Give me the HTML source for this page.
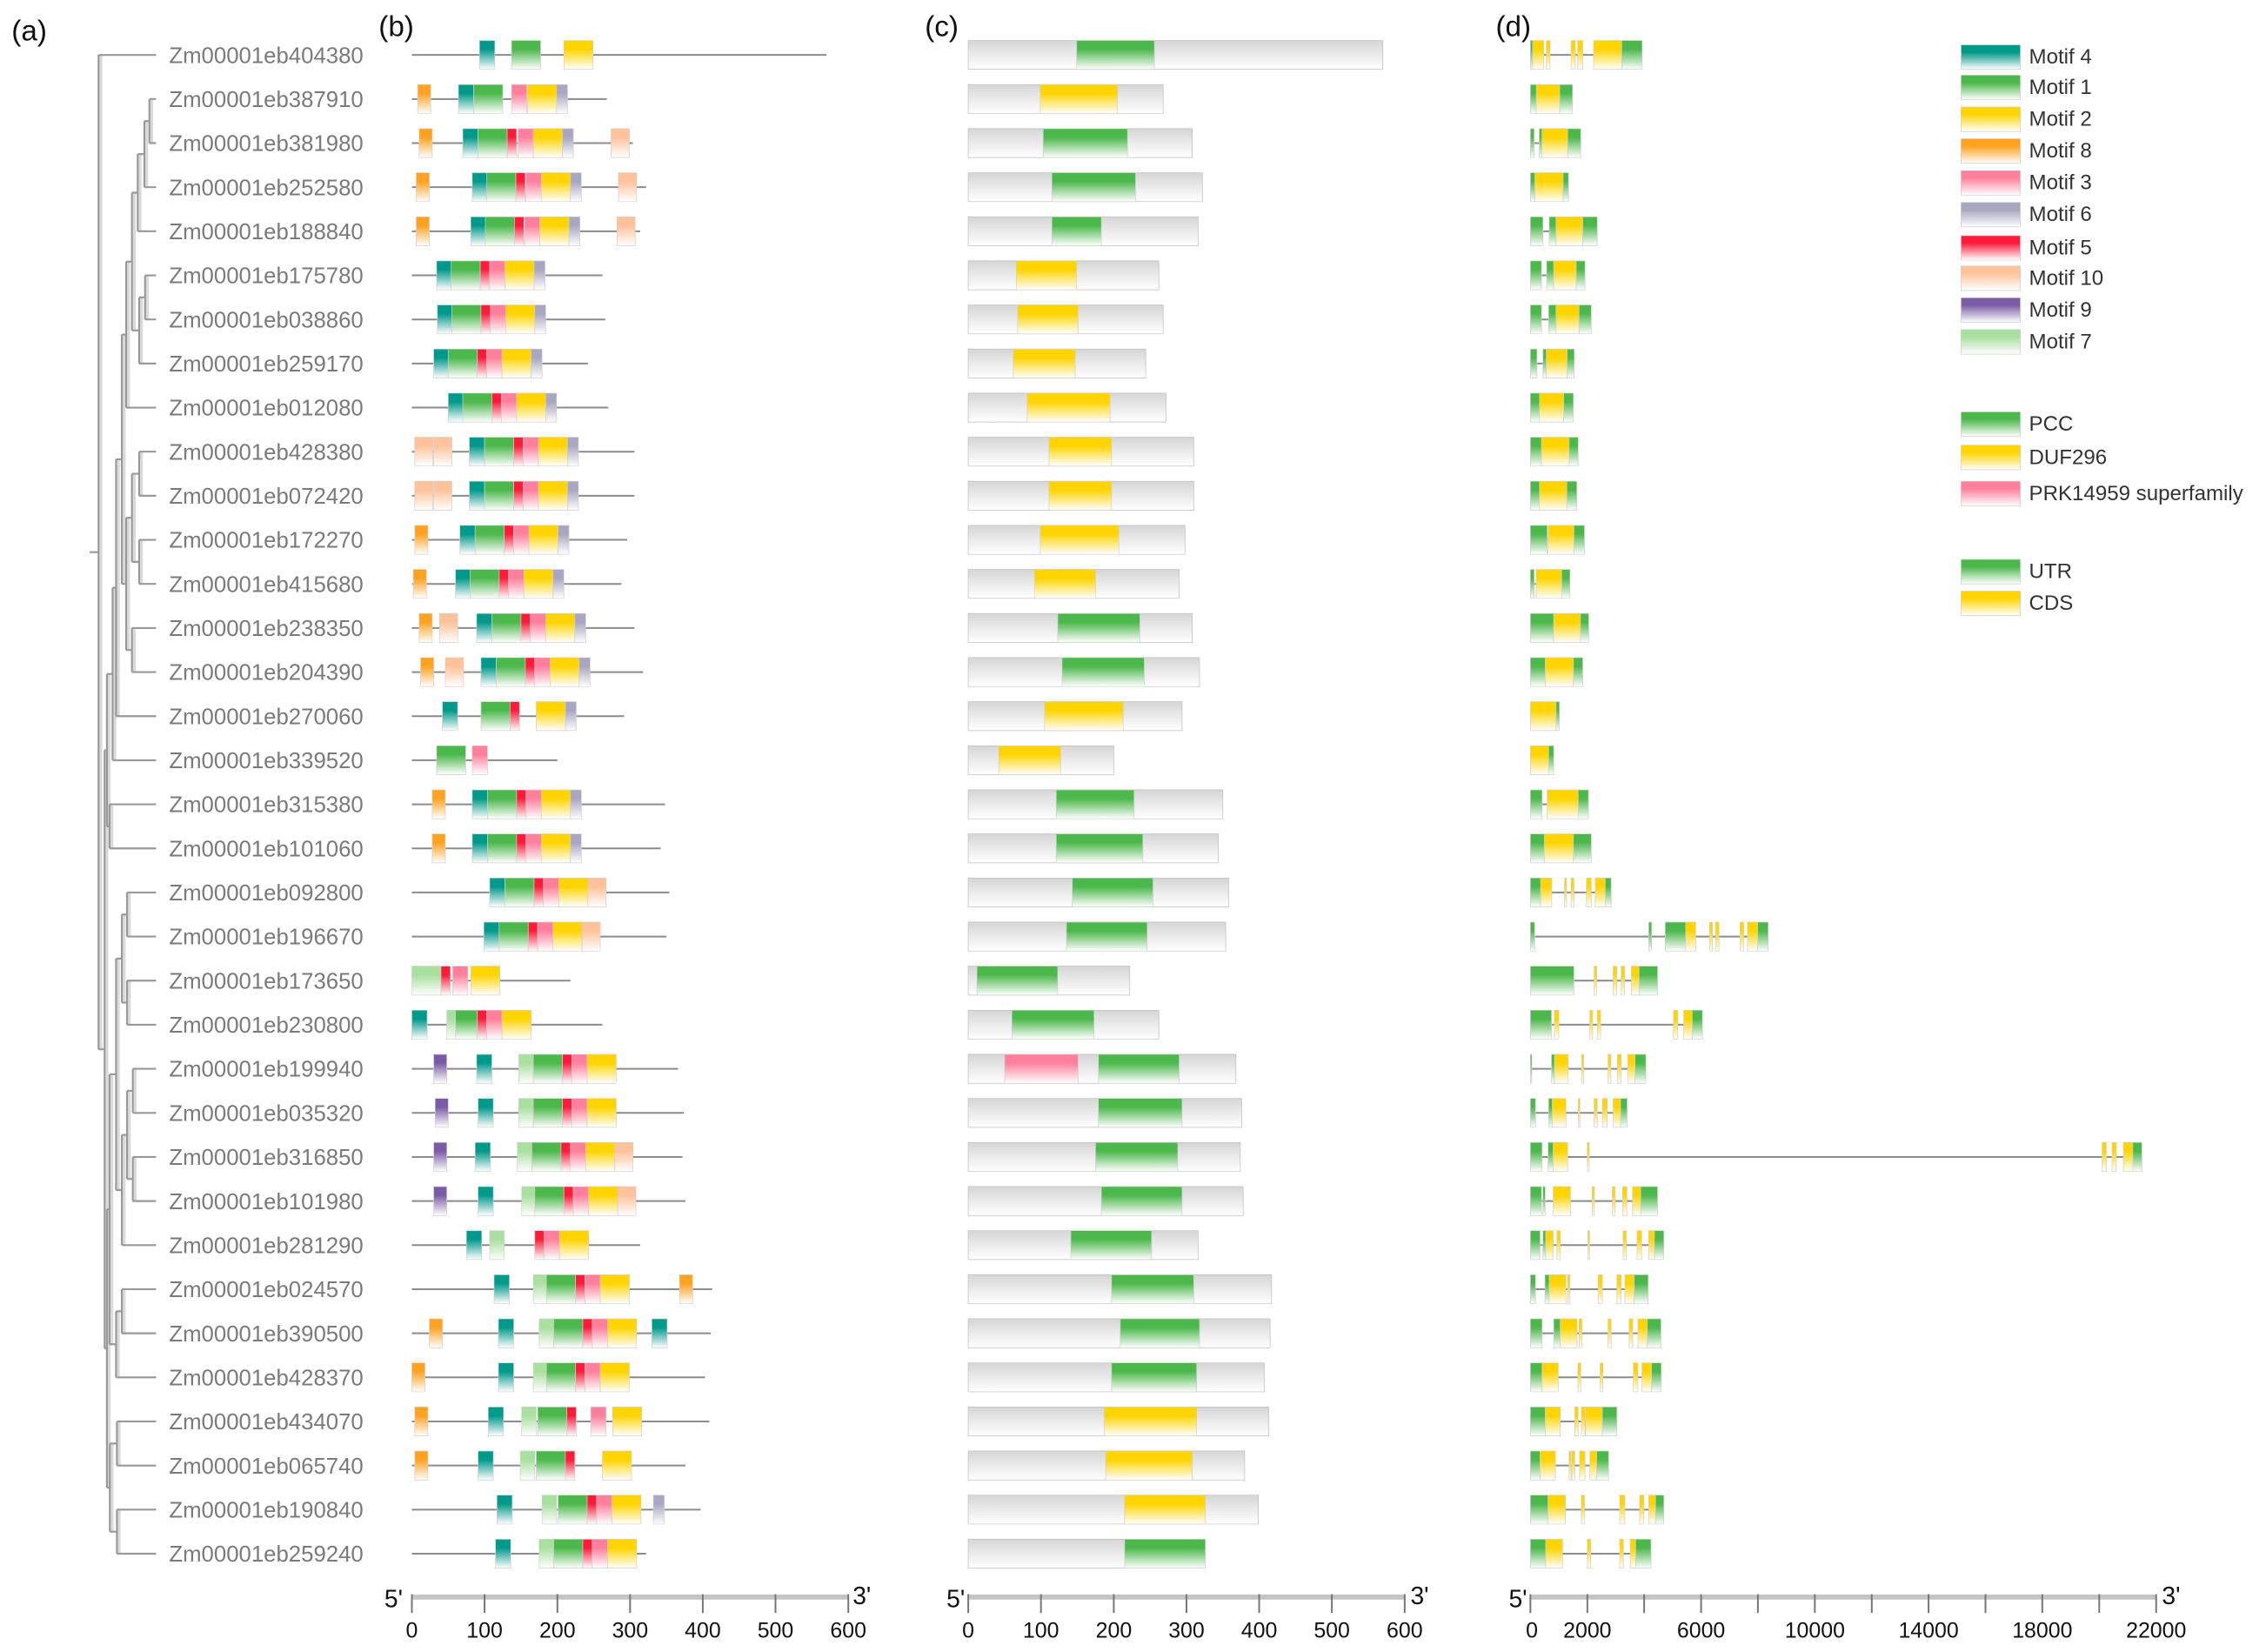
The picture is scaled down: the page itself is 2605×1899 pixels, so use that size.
<!DOCTYPE html>
<html><head><meta charset="utf-8"><style>
html,body{margin:0;padding:0;background:#fff;}
svg{display:block;}
text{font-family:"Liberation Sans",sans-serif;}
.lbl{font-size:15.5px;fill:#7a7a7a;}
.bb{stroke:#8c8c8c;stroke-width:2px;vector-effect:non-scaling-stroke;}
rect{stroke:#cfcfcf;stroke-width:0.7px;vector-effect:non-scaling-stroke;}
.m4{fill:url(#g_m4)}.m1{fill:url(#g_m1)}.m2{fill:url(#g_m2)}.m8{fill:url(#g_m8)}.m3{fill:url(#g_m3)}
.m6{fill:url(#g_m6)}.m5{fill:url(#g_m5)}.m10{fill:url(#g_m10)}.m9{fill:url(#g_m9)}.m7{fill:url(#g_m7)}
.pcc{fill:url(#g_m1)}.duf{fill:url(#g_m2)}.prk{fill:url(#g_m3)}.u{fill:url(#g_m1)}.c{fill:url(#g_m2)}
.gr{fill:url(#g_gray);stroke:#bdbdbd;}
.tk{stroke:#777;stroke-width:1.2px;}
.ax{stroke:#c4c4c4;stroke-width:3.5px;}
.tl{font-size:15px;fill:#111;text-anchor:middle;}
.pr{font-size:17px;fill:#111;}
.lg{font-size:14.5px;fill:#333;}
</style></head><body>
<svg id="fig" width="2605" height="1899" viewBox="0 0 1568 1143">
<defs>
<linearGradient id="g_m4" x1="0" y1="0" x2="0" y2="1"><stop offset="0" stop-color="#00998a"/><stop offset="0.3" stop-color="#00998a"/><stop offset="1" stop-color="#fff"/></linearGradient>
<linearGradient id="g_m1" x1="0" y1="0" x2="0" y2="1"><stop offset="0" stop-color="#4cb84c"/><stop offset="0.3" stop-color="#4cb84c"/><stop offset="1" stop-color="#fff"/></linearGradient>
<linearGradient id="g_m2" x1="0" y1="0" x2="0" y2="1"><stop offset="0" stop-color="#ffd400"/><stop offset="0.3" stop-color="#ffd400"/><stop offset="1" stop-color="#fff"/></linearGradient>
<linearGradient id="g_m8" x1="0" y1="0" x2="0" y2="1"><stop offset="0" stop-color="#ffa21f"/><stop offset="0.3" stop-color="#ffa21f"/><stop offset="1" stop-color="#fff"/></linearGradient>
<linearGradient id="g_m3" x1="0" y1="0" x2="0" y2="1"><stop offset="0" stop-color="#ff7f9c"/><stop offset="0.3" stop-color="#ff7f9c"/><stop offset="1" stop-color="#fff"/></linearGradient>
<linearGradient id="g_m6" x1="0" y1="0" x2="0" y2="1"><stop offset="0" stop-color="#a8a6c0"/><stop offset="0.3" stop-color="#a8a6c0"/><stop offset="1" stop-color="#fff"/></linearGradient>
<linearGradient id="g_m5" x1="0" y1="0" x2="0" y2="1"><stop offset="0" stop-color="#ff1a3a"/><stop offset="0.3" stop-color="#ff1a3a"/><stop offset="1" stop-color="#fff"/></linearGradient>
<linearGradient id="g_m10" x1="0" y1="0" x2="0" y2="1"><stop offset="0" stop-color="#ffc29a"/><stop offset="0.3" stop-color="#ffc29a"/><stop offset="1" stop-color="#fff"/></linearGradient>
<linearGradient id="g_m9" x1="0" y1="0" x2="0" y2="1"><stop offset="0" stop-color="#7a5ca6"/><stop offset="0.3" stop-color="#7a5ca6"/><stop offset="1" stop-color="#fff"/></linearGradient>
<linearGradient id="g_m7" x1="0" y1="0" x2="0" y2="1"><stop offset="0" stop-color="#a9df9f"/><stop offset="0.3" stop-color="#a9df9f"/><stop offset="1" stop-color="#fff"/></linearGradient>
<linearGradient id="g_gray" x1="0" y1="0" x2="0" y2="1"><stop offset="0" stop-color="#d6d6d6"/><stop offset="1" stop-color="#fff"/></linearGradient>
</defs>
<text x="8" y="28" font-size="20" fill="#111">(a)</text>
<text x="262" y="25" font-size="20" fill="#111">(b)</text>
<text x="640" y="25" font-size="20" fill="#111">(c)</text>
<text x="1035" y="25" font-size="20" fill="#111">(d)</text>

<g fill="none">
<path transform="translate(1.6 0)" stroke="#dadada" stroke-width="2" d="M68.2 38V726M72.4 519V933M74 466.3V571.75M75.8 556.5V587M77.9 406.6V526M80.3 317.75V495.5M84.3 231.5V404M87.3 181V282M91.3 133.3V228.6M95.3 106.6V160M99.9 83.75V129.5M103.4 68.5V99M96.3 205.75V251.5M100.4 190.5V221M87.3 358.25V449.75M91.3 327.75V388.75M96.3 312.5V343M96.3 373.5V404M91.3 434.5V465M74 836.7V1029.25M75.8 743.3V930.1M80.3 663.25V823.4M84.3 632.75V693.75M87.9 617.5V648M87.9 678.5V709M84.3 785.25V861.5M87.9 754.75V815.75M91.9 739.5V770M91.9 800.5V831M80.3 907.25V953M84.3 892V922.5M76 998.75V1059.75M80.9 983.5V1014M80.9 1044.5V1075"/>
<path stroke="#999" stroke-width="1.3" d="M68.2 38V726M68.2 38H108M68.2 726H72.4M62 382H68.2
M72.4 519V933M72.4 519H74M72.4 933H74
M74 466.3V571.75M74 466.3H77.9M74 571.75H75.8
M75.8 556.5V587M75.8 556.5H108M75.8 587H108
M77.9 406.6V526M77.9 406.6H80.3M77.9 526H108
M80.3 317.75V495.5M80.3 317.75H84.3M80.3 495.5H108
M84.3 231.5V404M84.3 231.5H87.3M84.3 404H87.3
M87.3 181V282M87.3 181H91.3M87.3 282H108
M91.3 133.3V228.6M91.3 133.3H95.3M91.3 228.6H96.3
M95.3 106.6V160M95.3 106.6H99.9M95.3 160H108
M99.9 83.75V129.5M99.9 83.75H103.4M99.9 129.5H108
M103.4 68.5V99M103.4 68.5H108M103.4 99H108
M96.3 205.75V251.5M96.3 205.75H100.4M96.3 251.5H108
M100.4 190.5V221M100.4 190.5H108M100.4 221H108
M87.3 358.25V449.75M87.3 358.25H91.3M87.3 449.75H91.3
M91.3 327.75V388.75M91.3 327.75H96.3M91.3 388.75H96.3
M96.3 312.5V343M96.3 312.5H108M96.3 343H108
M96.3 373.5V404M96.3 373.5H108M96.3 404H108
M91.3 434.5V465M91.3 434.5H108M91.3 465H108
M74 836.7V1029.25M74 836.7H75.8M74 1029.25H76
M75.8 743.3V930.1M75.8 743.3H80.3M75.8 930.1H80.3
M80.3 663.25V823.4M80.3 663.25H84.3M80.3 823.4H84.3
M84.3 632.75V693.75M84.3 632.75H87.9M84.3 693.75H87.9
M87.9 617.5V648M87.9 617.5H108M87.9 648H108
M87.9 678.5V709M87.9 678.5H108M87.9 709H108
M84.3 785.25V861.5M84.3 785.25H87.9M84.3 861.5H108
M87.9 754.75V815.75M87.9 754.75H91.9M87.9 815.75H91.9
M91.9 739.5V770M91.9 739.5H108M91.9 770H108
M91.9 800.5V831M91.9 800.5H108M91.9 831H108
M80.3 907.25V953M80.3 907.25H84.3M80.3 953H108
M84.3 892V922.5M84.3 892H108M84.3 922.5H108
M76 998.75V1059.75M76 998.75H80.9M76 1059.75H80.9
M80.9 983.5V1014M80.9 983.5H108M80.9 1014H108
M80.9 1044.5V1075M80.9 1044.5H108M80.9 1075H108"/>
</g>

<g>
<!-- row 1 -->
<g transform="translate(0 38)"><text class="lbl" x="117" y="5.5">Zm00001eb404380</text>
<g transform="translate(285 0) scale(0.5033 1)"><line class="bb" x2="570"/><rect class="m4" x="93" width="21" y="-10" height="20"/><rect class="m1" x="137" width="40" y="-10" height="20"/><rect class="m2" x="209" width="40" y="-10" height="20"/></g>
<g transform="translate(670 0) scale(0.5033 1)"><rect class="gr" width="570" y="-10" height="20"/><rect class="pcc" x="149" width="107" y="-10" height="20"/></g>
<g transform="translate(1059 0) scale(0.01968 1)"><line class="bb" x2="3930"/><rect class="u" x="0" width="80" y="-10" height="20"/><rect class="c" x="80" width="390" y="-10" height="20"/><rect class="c" x="560" width="130" y="-10" height="20"/><rect class="c" x="1430" width="150" y="-10" height="20"/><rect class="c" x="1660" width="180" y="-10" height="20"/><rect class="c" x="2220" width="990" y="-10" height="20"/><rect class="u" x="3210" width="720" y="-10" height="20"/></g></g>
<!-- row 2 -->
<g transform="translate(0 68.5)"><text class="lbl" x="117" y="5.5">Zm00001eb387910</text>
<g transform="translate(285 0) scale(0.5033 1)"><line class="bb" x2="268"/><rect class="m8" x="8" width="18" y="-10" height="20"/><rect class="m4" x="64" width="21" y="-10" height="20"/><rect class="m1" x="85" width="40" y="-10" height="20"/><rect class="m3" x="137" width="21" y="-10" height="20"/><rect class="m2" x="159" width="40" y="-10" height="20"/><rect class="m6" x="199" width="15" y="-10" height="20"/></g>
<g transform="translate(670 0) scale(0.5033 1)"><rect class="gr" width="268" y="-10" height="20"/><rect class="duf" x="99" width="106" y="-10" height="20"/></g>
<g transform="translate(1059 0) scale(0.01968 1)"><line class="bb" x2="1480"/><rect class="u" x="0" width="210" y="-10" height="20"/><rect class="c" x="210" width="820" y="-10" height="20"/><rect class="u" x="1030" width="450" y="-10" height="20"/></g></g>
<!-- row 3 -->
<g transform="translate(0 99)"><text class="lbl" x="117" y="5.5">Zm00001eb381980</text>
<g transform="translate(285 0) scale(0.5033 1)"><line class="bb" x2="304"/><rect class="m8" x="10" width="18" y="-10" height="20"/><rect class="m4" x="70" width="21" y="-10" height="20"/><rect class="m1" x="91" width="40" y="-10" height="20"/><rect class="m5" x="131" width="13" y="-10" height="20"/><rect class="m3" x="146" width="21" y="-10" height="20"/><rect class="m2" x="167" width="40" y="-10" height="20"/><rect class="m6" x="207" width="15" y="-10" height="20"/><rect class="m10" x="274" width="25" y="-10" height="20"/></g>
<g transform="translate(670 0) scale(0.5033 1)"><rect class="gr" width="308" y="-10" height="20"/><rect class="pcc" x="103" width="116" y="-10" height="20"/></g>
<g transform="translate(1059 0) scale(0.01968 1)"><line class="bb" x2="1770"/><rect class="u" x="0" width="130" y="-10" height="20"/><rect class="u" x="310" width="100" y="-10" height="20"/><rect class="c" x="410" width="900" y="-10" height="20"/><rect class="u" x="1310" width="460" y="-10" height="20"/></g></g>
<!-- row 4 -->
<g transform="translate(0 129.5)"><text class="lbl" x="117" y="5.5">Zm00001eb252580</text>
<g transform="translate(285 0) scale(0.5033 1)"><line class="bb" x2="322"/><rect class="m8" x="6" width="18" y="-10" height="20"/><rect class="m4" x="83" width="21" y="-10" height="20"/><rect class="m1" x="103" width="40" y="-10" height="20"/><rect class="m5" x="143" width="13" y="-10" height="20"/><rect class="m3" x="157" width="21" y="-10" height="20"/><rect class="m2" x="178" width="40" y="-10" height="20"/><rect class="m6" x="218" width="15" y="-10" height="20"/><rect class="m10" x="284" width="25" y="-10" height="20"/></g>
<g transform="translate(670 0) scale(0.5033 1)"><rect class="gr" width="322" y="-10" height="20"/><rect class="pcc" x="115" width="115" y="-10" height="20"/></g>
<g transform="translate(1059 0) scale(0.01968 1)"><line class="bb" x2="1340"/><rect class="u" x="0" width="160" y="-10" height="20"/><rect class="c" x="160" width="990" y="-10" height="20"/><rect class="u" x="1150" width="190" y="-10" height="20"/></g></g>
<!-- row 5 -->
<g transform="translate(0 160)"><text class="lbl" x="117" y="5.5">Zm00001eb188840</text>
<g transform="translate(285 0) scale(0.5033 1)"><line class="bb" x2="314"/><rect class="m8" x="6" width="18" y="-10" height="20"/><rect class="m4" x="81" width="21" y="-10" height="20"/><rect class="m1" x="101" width="40" y="-10" height="20"/><rect class="m5" x="141" width="13" y="-10" height="20"/><rect class="m3" x="155" width="21" y="-10" height="20"/><rect class="m2" x="176" width="40" y="-10" height="20"/><rect class="m6" x="216" width="15" y="-10" height="20"/><rect class="m10" x="282" width="25" y="-10" height="20"/></g>
<g transform="translate(670 0) scale(0.5033 1)"><rect class="gr" width="316" y="-10" height="20"/><rect class="pcc" x="115" width="68" y="-10" height="20"/></g>
<g transform="translate(1059 0) scale(0.01968 1)"><line class="bb" x2="2350"/><rect class="u" x="0" width="440" y="-10" height="20"/><rect class="u" x="660" width="240" y="-10" height="20"/><rect class="c" x="900" width="940" y="-10" height="20"/><rect class="u" x="1840" width="510" y="-10" height="20"/></g></g>
<!-- row 6 -->
<g transform="translate(0 190.5)"><text class="lbl" x="117" y="5.5">Zm00001eb175780</text>
<g transform="translate(285 0) scale(0.5033 1)"><line class="bb" x2="262"/><rect class="m4" x="34" width="21" y="-10" height="20"/><rect class="m1" x="54" width="40" y="-10" height="20"/><rect class="m5" x="94" width="13" y="-10" height="20"/><rect class="m3" x="107" width="21" y="-10" height="20"/><rect class="m2" x="128" width="40" y="-10" height="20"/><rect class="m6" x="168" width="15" y="-10" height="20"/></g>
<g transform="translate(670 0) scale(0.5033 1)"><rect class="gr" width="262" y="-10" height="20"/><rect class="duf" x="66" width="83" y="-10" height="20"/></g>
<g transform="translate(1059 0) scale(0.01968 1)"><line class="bb" x2="1920"/><rect class="u" x="0" width="390" y="-10" height="20"/><rect class="u" x="570" width="250" y="-10" height="20"/><rect class="c" x="820" width="790" y="-10" height="20"/><rect class="u" x="1610" width="310" y="-10" height="20"/></g></g>
<!-- row 7 -->
<g transform="translate(0 221)"><text class="lbl" x="117" y="5.5">Zm00001eb038860</text>
<g transform="translate(285 0) scale(0.5033 1)"><line class="bb" x2="266"/><rect class="m4" x="35" width="21" y="-10" height="20"/><rect class="m1" x="55" width="40" y="-10" height="20"/><rect class="m5" x="95" width="13" y="-10" height="20"/><rect class="m3" x="108" width="21" y="-10" height="20"/><rect class="m2" x="129" width="40" y="-10" height="20"/><rect class="m6" x="169" width="15" y="-10" height="20"/></g>
<g transform="translate(670 0) scale(0.5033 1)"><rect class="gr" width="268" y="-10" height="20"/><rect class="duf" x="68" width="83" y="-10" height="20"/></g>
<g transform="translate(1059 0) scale(0.01968 1)"><line class="bb" x2="2140"/><rect class="u" x="0" width="390" y="-10" height="20"/><rect class="u" x="640" width="260" y="-10" height="20"/><rect class="c" x="900" width="810" y="-10" height="20"/><rect class="u" x="1710" width="430" y="-10" height="20"/></g></g>
<!-- row 8 -->
<g transform="translate(0 251.5)"><text class="lbl" x="117" y="5.5">Zm00001eb259170</text>
<g transform="translate(285 0) scale(0.5033 1)"><line class="bb" x2="242"/><rect class="m4" x="30" width="21" y="-10" height="20"/><rect class="m1" x="50" width="40" y="-10" height="20"/><rect class="m5" x="90" width="13" y="-10" height="20"/><rect class="m3" x="103" width="21" y="-10" height="20"/><rect class="m2" x="124" width="40" y="-10" height="20"/><rect class="m6" x="164" width="15" y="-10" height="20"/></g>
<g transform="translate(670 0) scale(0.5033 1)"><rect class="gr" width="244" y="-10" height="20"/><rect class="duf" x="62" width="85" y="-10" height="20"/></g>
<g transform="translate(1059 0) scale(0.01968 1)"><line class="bb" x2="1540"/><rect class="u" x="0" width="230" y="-10" height="20"/><rect class="u" x="440" width="120" y="-10" height="20"/><rect class="c" x="560" width="730" y="-10" height="20"/><rect class="u" x="1290" width="250" y="-10" height="20"/></g></g>
<!-- row 9 -->
<g transform="translate(0 282)"><text class="lbl" x="117" y="5.5">Zm00001eb012080</text>
<g transform="translate(285 0) scale(0.5033 1)"><line class="bb" x2="270"/><rect class="m4" x="50" width="21" y="-10" height="20"/><rect class="m1" x="70" width="40" y="-10" height="20"/><rect class="m5" x="110" width="13" y="-10" height="20"/><rect class="m3" x="123" width="21" y="-10" height="20"/><rect class="m2" x="144" width="40" y="-10" height="20"/><rect class="m6" x="184" width="15" y="-10" height="20"/></g>
<g transform="translate(670 0) scale(0.5033 1)"><rect class="gr" width="272" y="-10" height="20"/><rect class="duf" x="81" width="114" y="-10" height="20"/></g>
<g transform="translate(1059 0) scale(0.01968 1)"><line class="bb" x2="1510"/><rect class="u" x="0" width="320" y="-10" height="20"/><rect class="c" x="320" width="850" y="-10" height="20"/><rect class="u" x="1170" width="340" y="-10" height="20"/></g></g>
<!-- row 10 -->
<g transform="translate(0 312.5)"><text class="lbl" x="117" y="5.5">Zm00001eb428380</text>
<g transform="translate(285 0) scale(0.5033 1)"><line class="bb" x2="306"/><rect class="m10" x="4" width="25" y="-10" height="20"/><rect class="m10" x="30" width="25" y="-10" height="20"/><rect class="m4" x="79" width="21" y="-10" height="20"/><rect class="m1" x="100" width="40" y="-10" height="20"/><rect class="m5" x="140" width="13" y="-10" height="20"/><rect class="m3" x="153" width="21" y="-10" height="20"/><rect class="m2" x="174" width="40" y="-10" height="20"/><rect class="m6" x="214" width="15" y="-10" height="20"/></g>
<g transform="translate(670 0) scale(0.5033 1)"><rect class="gr" width="310" y="-10" height="20"/><rect class="duf" x="111" width="86" y="-10" height="20"/></g>
<g transform="translate(1059 0) scale(0.01968 1)"><line class="bb" x2="1680"/><rect class="u" x="0" width="390" y="-10" height="20"/><rect class="c" x="390" width="970" y="-10" height="20"/><rect class="u" x="1360" width="320" y="-10" height="20"/></g></g>
<!-- row 11 -->
<g transform="translate(0 343)"><text class="lbl" x="117" y="5.5">Zm00001eb072420</text>
<g transform="translate(285 0) scale(0.5033 1)"><line class="bb" x2="306"/><rect class="m10" x="4" width="25" y="-10" height="20"/><rect class="m10" x="30" width="25" y="-10" height="20"/><rect class="m4" x="79" width="21" y="-10" height="20"/><rect class="m1" x="100" width="40" y="-10" height="20"/><rect class="m5" x="140" width="13" y="-10" height="20"/><rect class="m3" x="153" width="21" y="-10" height="20"/><rect class="m2" x="174" width="40" y="-10" height="20"/><rect class="m6" x="214" width="15" y="-10" height="20"/></g>
<g transform="translate(670 0) scale(0.5033 1)"><rect class="gr" width="310" y="-10" height="20"/><rect class="duf" x="111" width="86" y="-10" height="20"/></g>
<g transform="translate(1059 0) scale(0.01968 1)"><line class="bb" x2="1630"/><rect class="u" x="0" width="320" y="-10" height="20"/><rect class="c" x="320" width="960" y="-10" height="20"/><rect class="u" x="1280" width="350" y="-10" height="20"/></g></g>
<!-- row 12 -->
<g transform="translate(0 373.5)"><text class="lbl" x="117" y="5.5">Zm00001eb172270</text>
<g transform="translate(285 0) scale(0.5033 1)"><line class="bb" x2="296"/><rect class="m8" x="4" width="18" y="-10" height="20"/><rect class="m4" x="66" width="21" y="-10" height="20"/><rect class="m1" x="87" width="40" y="-10" height="20"/><rect class="m5" x="127" width="13" y="-10" height="20"/><rect class="m3" x="140" width="21" y="-10" height="20"/><rect class="m2" x="161" width="40" y="-10" height="20"/><rect class="m6" x="201" width="15" y="-10" height="20"/></g>
<g transform="translate(670 0) scale(0.5033 1)"><rect class="gr" width="298" y="-10" height="20"/><rect class="duf" x="99" width="108" y="-10" height="20"/></g>
<g transform="translate(1059 0) scale(0.01968 1)"><line class="bb" x2="1900"/><rect class="u" x="0" width="590" y="-10" height="20"/><rect class="c" x="620" width="910" y="-10" height="20"/><rect class="u" x="1530" width="370" y="-10" height="20"/></g></g>
<!-- row 13 -->
<g transform="translate(0 404)"><text class="lbl" x="117" y="5.5">Zm00001eb415680</text>
<g transform="translate(285 0) scale(0.5033 1)"><line class="bb" x2="288"/><rect class="m8" x="2" width="18" y="-10" height="20"/><rect class="m4" x="60" width="21" y="-10" height="20"/><rect class="m1" x="80" width="40" y="-10" height="20"/><rect class="m5" x="120" width="13" y="-10" height="20"/><rect class="m3" x="133" width="21" y="-10" height="20"/><rect class="m2" x="154" width="40" y="-10" height="20"/><rect class="m6" x="194" width="15" y="-10" height="20"/></g>
<g transform="translate(670 0) scale(0.5033 1)"><rect class="gr" width="290" y="-10" height="20"/><rect class="duf" x="91" width="84" y="-10" height="20"/></g>
<g transform="translate(1059 0) scale(0.01968 1)"><line class="bb" x2="1390"/><rect class="u" x="0" width="130" y="-10" height="20"/><rect class="c" x="200" width="900" y="-10" height="20"/><rect class="u" x="1100" width="290" y="-10" height="20"/></g></g>
<!-- row 14 -->
<g transform="translate(0 434.5)"><text class="lbl" x="117" y="5.5">Zm00001eb238350</text>
<g transform="translate(285 0) scale(0.5033 1)"><line class="bb" x2="306"/><rect class="m8" x="10" width="18" y="-10" height="20"/><rect class="m10" x="38" width="25" y="-10" height="20"/><rect class="m4" x="89" width="21" y="-10" height="20"/><rect class="m1" x="110" width="40" y="-10" height="20"/><rect class="m5" x="150" width="13" y="-10" height="20"/><rect class="m3" x="163" width="21" y="-10" height="20"/><rect class="m2" x="184" width="40" y="-10" height="20"/><rect class="m6" x="224" width="15" y="-10" height="20"/></g>
<g transform="translate(670 0) scale(0.5033 1)"><rect class="gr" width="308" y="-10" height="20"/><rect class="pcc" x="123" width="113" y="-10" height="20"/></g>
<g transform="translate(1059 0) scale(0.01968 1)"><line class="bb" x2="2050"/><rect class="u" x="0" width="820" y="-10" height="20"/><rect class="c" x="820" width="940" y="-10" height="20"/><rect class="u" x="1760" width="290" y="-10" height="20"/></g></g>
<!-- row 15 -->
<g transform="translate(0 465)"><text class="lbl" x="117" y="5.5">Zm00001eb204390</text>
<g transform="translate(285 0) scale(0.5033 1)"><line class="bb" x2="318"/><rect class="m8" x="12" width="18" y="-10" height="20"/><rect class="m10" x="46" width="25" y="-10" height="20"/><rect class="m4" x="95" width="21" y="-10" height="20"/><rect class="m1" x="116" width="40" y="-10" height="20"/><rect class="m5" x="156" width="13" y="-10" height="20"/><rect class="m3" x="169" width="21" y="-10" height="20"/><rect class="m2" x="190" width="40" y="-10" height="20"/><rect class="m6" x="230" width="15" y="-10" height="20"/></g>
<g transform="translate(670 0) scale(0.5033 1)"><rect class="gr" width="318" y="-10" height="20"/><rect class="pcc" x="129" width="113" y="-10" height="20"/></g>
<g transform="translate(1059 0) scale(0.01968 1)"><line class="bb" x2="1840"/><rect class="u" x="0" width="520" y="-10" height="20"/><rect class="c" x="520" width="990" y="-10" height="20"/><rect class="u" x="1510" width="330" y="-10" height="20"/></g></g>
<!-- row 16 -->
<g transform="translate(0 495.5)"><text class="lbl" x="117" y="5.5">Zm00001eb270060</text>
<g transform="translate(285 0) scale(0.5033 1)"><line class="bb" x2="292"/><rect class="m4" x="42" width="21" y="-10" height="20"/><rect class="m1" x="95" width="40" y="-10" height="20"/><rect class="m5" x="135" width="13" y="-10" height="20"/><rect class="m2" x="171" width="40" y="-10" height="20"/><rect class="m6" x="211" width="15" y="-10" height="20"/></g>
<g transform="translate(670 0) scale(0.5033 1)"><rect class="gr" width="294" y="-10" height="20"/><rect class="duf" x="105" width="108" y="-10" height="20"/></g>
<g transform="translate(1059 0) scale(0.01968 1)"><line class="bb" x2="1020"/><rect class="c" x="0" width="900" y="-10" height="20"/><rect class="u" x="900" width="120" y="-10" height="20"/></g></g>
<!-- row 17 -->
<g transform="translate(0 526)"><text class="lbl" x="117" y="5.5">Zm00001eb339520</text>
<g transform="translate(285 0) scale(0.5033 1)"><line class="bb" x2="200"/><rect class="m1" x="34" width="40" y="-10" height="20"/><rect class="m3" x="83" width="21" y="-10" height="20"/></g>
<g transform="translate(670 0) scale(0.5033 1)"><rect class="gr" width="200" y="-10" height="20"/><rect class="duf" x="42" width="85" y="-10" height="20"/></g>
<g transform="translate(1059 0) scale(0.01968 1)"><line class="bb" x2="820"/><rect class="c" x="0" width="640" y="-10" height="20"/><rect class="u" x="640" width="180" y="-10" height="20"/></g></g>
<!-- row 18 -->
<g transform="translate(0 556.5)"><text class="lbl" x="117" y="5.5">Zm00001eb315380</text>
<g transform="translate(285 0) scale(0.5033 1)"><line class="bb" x2="348"/><rect class="m8" x="28" width="18" y="-10" height="20"/><rect class="m4" x="83" width="21" y="-10" height="20"/><rect class="m1" x="104" width="40" y="-10" height="20"/><rect class="m5" x="144" width="13" y="-10" height="20"/><rect class="m3" x="157" width="21" y="-10" height="20"/><rect class="m2" x="178" width="40" y="-10" height="20"/><rect class="m6" x="218" width="15" y="-10" height="20"/></g>
<g transform="translate(670 0) scale(0.5033 1)"><rect class="gr" width="350" y="-10" height="20"/><rect class="pcc" x="121" width="107" y="-10" height="20"/></g>
<g transform="translate(1059 0) scale(0.01968 1)"><line class="bb" x2="2040"/><rect class="u" x="0" width="410" y="-10" height="20"/><rect class="c" x="590" width="1090" y="-10" height="20"/><rect class="u" x="1680" width="360" y="-10" height="20"/></g></g>
<!-- row 19 -->
<g transform="translate(0 587)"><text class="lbl" x="117" y="5.5">Zm00001eb101060</text>
<g transform="translate(285 0) scale(0.5033 1)"><line class="bb" x2="342"/><rect class="m8" x="28" width="18" y="-10" height="20"/><rect class="m4" x="83" width="21" y="-10" height="20"/><rect class="m1" x="104" width="40" y="-10" height="20"/><rect class="m5" x="144" width="13" y="-10" height="20"/><rect class="m3" x="157" width="21" y="-10" height="20"/><rect class="m2" x="178" width="40" y="-10" height="20"/><rect class="m6" x="218" width="15" y="-10" height="20"/></g>
<g transform="translate(670 0) scale(0.5033 1)"><rect class="gr" width="344" y="-10" height="20"/><rect class="pcc" x="121" width="119" y="-10" height="20"/></g>
<g transform="translate(1059 0) scale(0.01968 1)"><line class="bb" x2="2140"/><rect class="u" x="0" width="490" y="-10" height="20"/><rect class="c" x="490" width="1020" y="-10" height="20"/><rect class="u" x="1510" width="630" y="-10" height="20"/></g></g>
<!-- row 20 -->
<g transform="translate(0 617.5)"><text class="lbl" x="117" y="5.5">Zm00001eb092800</text>
<g transform="translate(285 0) scale(0.5033 1)"><line class="bb" x2="354"/><rect class="m4" x="107" width="21" y="-10" height="20"/><rect class="m1" x="128" width="40" y="-10" height="20"/><rect class="m5" x="168" width="13" y="-10" height="20"/><rect class="m3" x="181" width="21" y="-10" height="20"/><rect class="m2" x="202" width="40" y="-10" height="20"/><rect class="m10" x="242" width="25" y="-10" height="20"/></g>
<g transform="translate(670 0) scale(0.5033 1)"><rect class="gr" width="358" y="-10" height="20"/><rect class="pcc" x="143" width="111" y="-10" height="20"/></g>
<g transform="translate(1059 0) scale(0.01968 1)"><line class="bb" x2="2840"/><rect class="u" x="0" width="360" y="-10" height="20"/><rect class="c" x="360" width="390" y="-10" height="20"/><rect class="c" x="1200" width="70" y="-10" height="20"/><rect class="c" x="1430" width="100" y="-10" height="20"/><rect class="c" x="1970" width="170" y="-10" height="20"/><rect class="c" x="2280" width="350" y="-10" height="20"/><rect class="u" x="2630" width="210" y="-10" height="20"/></g></g>
<!-- row 21 -->
<g transform="translate(0 648)"><text class="lbl" x="117" y="5.5">Zm00001eb196670</text>
<g transform="translate(285 0) scale(0.5033 1)"><line class="bb" x2="350"/><rect class="m4" x="99" width="21" y="-10" height="20"/><rect class="m1" x="120" width="40" y="-10" height="20"/><rect class="m5" x="160" width="13" y="-10" height="20"/><rect class="m3" x="173" width="21" y="-10" height="20"/><rect class="m2" x="194" width="40" y="-10" height="20"/><rect class="m10" x="234" width="25" y="-10" height="20"/></g>
<g transform="translate(670 0) scale(0.5033 1)"><rect class="gr" width="354" y="-10" height="20"/><rect class="pcc" x="135" width="111" y="-10" height="20"/></g>
<g transform="translate(1059 0) scale(0.01968 1)"><line class="bb" x2="8360"/><rect class="u" x="0" width="150" y="-10" height="20"/><rect class="u" x="4160" width="100" y="-10" height="20"/><rect class="u" x="4740" width="720" y="-10" height="20"/><rect class="c" x="5460" width="350" y="-10" height="20"/><rect class="c" x="6300" width="100" y="-10" height="20"/><rect class="c" x="6510" width="120" y="-10" height="20"/><rect class="c" x="7370" width="130" y="-10" height="20"/><rect class="c" x="7630" width="360" y="-10" height="20"/><rect class="u" x="7990" width="370" y="-10" height="20"/></g></g>
<!-- row 22 -->
<g transform="translate(0 678.5)"><text class="lbl" x="117" y="5.5">Zm00001eb173650</text>
<g transform="translate(285 0) scale(0.5033 1)"><line class="bb" x2="218"/><rect class="m7" x="0" width="40" y="-10" height="20"/><rect class="m5" x="40" width="13" y="-10" height="20"/><rect class="m3" x="56" width="21" y="-10" height="20"/><rect class="m2" x="81" width="40" y="-10" height="20"/></g>
<g transform="translate(670 0) scale(0.5033 1)"><rect class="gr" width="222" y="-10" height="20"/><rect class="pcc" x="12" width="111" y="-10" height="20"/></g>
<g transform="translate(1059 0) scale(0.01968 1)"><line class="bb" x2="4470"/><rect class="u" x="0" width="1530" y="-10" height="20"/><rect class="c" x="2240" width="90" y="-10" height="20"/><rect class="c" x="2910" width="130" y="-10" height="20"/><rect class="c" x="3190" width="120" y="-10" height="20"/><rect class="c" x="3550" width="270" y="-10" height="20"/><rect class="u" x="3820" width="650" y="-10" height="20"/></g></g>
<!-- row 23 -->
<g transform="translate(0 709)"><text class="lbl" x="117" y="5.5">Zm00001eb230800</text>
<g transform="translate(285 0) scale(0.5033 1)"><line class="bb" x2="262"/><rect class="m4" x="0" width="21" y="-10" height="20"/><rect class="m7" x="48" width="20" y="-10" height="20"/><rect class="m1" x="60" width="30" y="-10" height="20"/><rect class="m5" x="90" width="13" y="-10" height="20"/><rect class="m3" x="103" width="21" y="-10" height="20"/><rect class="m2" x="124" width="40" y="-10" height="20"/></g>
<g transform="translate(670 0) scale(0.5033 1)"><rect class="gr" width="262" y="-10" height="20"/><rect class="pcc" x="60" width="113" y="-10" height="20"/></g>
<g transform="translate(1059 0) scale(0.01968 1)"><line class="bb" x2="6050"/><rect class="u" x="0" width="740" y="-10" height="20"/><rect class="c" x="840" width="160" y="-10" height="20"/><rect class="c" x="2090" width="100" y="-10" height="20"/><rect class="c" x="2350" width="120" y="-10" height="20"/><rect class="c" x="5030" width="150" y="-10" height="20"/><rect class="c" x="5390" width="300" y="-10" height="20"/><rect class="u" x="5690" width="360" y="-10" height="20"/></g></g>
<!-- row 24 -->
<g transform="translate(0 739.5)"><text class="lbl" x="117" y="5.5">Zm00001eb199940</text>
<g transform="translate(285 0) scale(0.5033 1)"><line class="bb" x2="366"/><rect class="m9" x="30" width="18" y="-10" height="20"/><rect class="m4" x="89" width="21" y="-10" height="20"/><rect class="m7" x="147" width="20" y="-10" height="20"/><rect class="m1" x="167" width="40" y="-10" height="20"/><rect class="m5" x="207" width="13" y="-10" height="20"/><rect class="m3" x="220" width="21" y="-10" height="20"/><rect class="m2" x="241" width="40" y="-10" height="20"/></g>
<g transform="translate(670 0) scale(0.5033 1)"><rect class="gr" width="368" y="-10" height="20"/><rect class="prk" x="50" width="101" y="-10" height="20"/><rect class="pcc" x="179" width="111" y="-10" height="20"/></g>
<g transform="translate(1059 0) scale(0.01968 1)"><line class="bb" x2="4060"/><rect class="u" x="0" width="50" y="-10" height="20"/><rect class="u" x="740" width="110" y="-10" height="20"/><rect class="c" x="850" width="480" y="-10" height="20"/><rect class="c" x="1800" width="70" y="-10" height="20"/><rect class="c" x="2730" width="100" y="-10" height="20"/><rect class="c" x="3060" width="130" y="-10" height="20"/><rect class="c" x="3420" width="260" y="-10" height="20"/><rect class="u" x="3680" width="380" y="-10" height="20"/></g></g>
<!-- row 25 -->
<g transform="translate(0 770)"><text class="lbl" x="117" y="5.5">Zm00001eb035320</text>
<g transform="translate(285 0) scale(0.5033 1)"><line class="bb" x2="374"/><rect class="m9" x="32" width="18" y="-10" height="20"/><rect class="m4" x="91" width="21" y="-10" height="20"/><rect class="m7" x="147" width="20" y="-10" height="20"/><rect class="m1" x="167" width="40" y="-10" height="20"/><rect class="m5" x="207" width="13" y="-10" height="20"/><rect class="m3" x="220" width="21" y="-10" height="20"/><rect class="m2" x="241" width="40" y="-10" height="20"/></g>
<g transform="translate(670 0) scale(0.5033 1)"><rect class="gr" width="376" y="-10" height="20"/><rect class="pcc" x="179" width="115" y="-10" height="20"/></g>
<g transform="translate(1059 0) scale(0.01968 1)"><line class="bb" x2="3400"/><rect class="u" x="0" width="180" y="-10" height="20"/><rect class="u" x="640" width="130" y="-10" height="20"/><rect class="c" x="770" width="480" y="-10" height="20"/><rect class="c" x="1680" width="60" y="-10" height="20"/><rect class="c" x="2240" width="110" y="-10" height="20"/><rect class="c" x="2530" width="170" y="-10" height="20"/><rect class="c" x="2910" width="260" y="-10" height="20"/><rect class="u" x="3170" width="230" y="-10" height="20"/></g></g>
<!-- row 26 -->
<g transform="translate(0 800.5)"><text class="lbl" x="117" y="5.5">Zm00001eb316850</text>
<g transform="translate(285 0) scale(0.5033 1)"><line class="bb" x2="372"/><rect class="m9" x="30" width="18" y="-10" height="20"/><rect class="m4" x="87" width="21" y="-10" height="20"/><rect class="m7" x="145" width="20" y="-10" height="20"/><rect class="m1" x="165" width="40" y="-10" height="20"/><rect class="m5" x="205" width="13" y="-10" height="20"/><rect class="m3" x="218" width="21" y="-10" height="20"/><rect class="m2" x="239" width="40" y="-10" height="20"/><rect class="m10" x="279" width="25" y="-10" height="20"/></g>
<g transform="translate(670 0) scale(0.5033 1)"><rect class="gr" width="374" y="-10" height="20"/><rect class="pcc" x="175" width="113" y="-10" height="20"/></g>
<g transform="translate(1059 0) scale(0.01968 1)"><line class="bb" x2="21500"/><rect class="u" x="0" width="410" y="-10" height="20"/><rect class="u" x="620" width="180" y="-10" height="20"/><rect class="c" x="800" width="510" y="-10" height="20"/><rect class="c" x="2000" width="70" y="-10" height="20"/><rect class="c" x="20100" width="150" y="-10" height="20"/><rect class="c" x="20450" width="150" y="-10" height="20"/><rect class="c" x="20850" width="330" y="-10" height="20"/><rect class="u" x="21180" width="320" y="-10" height="20"/></g></g>
<!-- row 27 -->
<g transform="translate(0 831)"><text class="lbl" x="117" y="5.5">Zm00001eb101980</text>
<g transform="translate(285 0) scale(0.5033 1)"><line class="bb" x2="376"/><rect class="m9" x="30" width="18" y="-10" height="20"/><rect class="m4" x="91" width="21" y="-10" height="20"/><rect class="m7" x="151" width="20" y="-10" height="20"/><rect class="m1" x="169" width="40" y="-10" height="20"/><rect class="m5" x="209" width="13" y="-10" height="20"/><rect class="m3" x="222" width="21" y="-10" height="20"/><rect class="m2" x="243" width="40" y="-10" height="20"/><rect class="m10" x="283" width="25" y="-10" height="20"/></g>
<g transform="translate(670 0) scale(0.5033 1)"><rect class="gr" width="378" y="-10" height="20"/><rect class="pcc" x="183" width="111" y="-10" height="20"/></g>
<g transform="translate(1059 0) scale(0.01968 1)"><line class="bb" x2="4470"/><rect class="u" x="0" width="390" y="-10" height="20"/><rect class="u" x="440" width="80" y="-10" height="20"/><rect class="c" x="800" width="610" y="-10" height="20"/><rect class="c" x="2170" width="80" y="-10" height="20"/><rect class="c" x="2880" width="100" y="-10" height="20"/><rect class="c" x="3240" width="150" y="-10" height="20"/><rect class="c" x="3590" width="290" y="-10" height="20"/><rect class="u" x="3880" width="590" y="-10" height="20"/></g></g>
<!-- row 28 -->
<g transform="translate(0 861.5)"><text class="lbl" x="117" y="5.5">Zm00001eb281290</text>
<g transform="translate(285 0) scale(0.5033 1)"><line class="bb" x2="314"/><rect class="m4" x="75" width="21" y="-10" height="20"/><rect class="m7" x="107" width="20" y="-10" height="20"/><rect class="m5" x="169" width="13" y="-10" height="20"/><rect class="m3" x="182" width="21" y="-10" height="20"/><rect class="m2" x="203" width="40" y="-10" height="20"/></g>
<g transform="translate(670 0) scale(0.5033 1)"><rect class="gr" width="316" y="-10" height="20"/><rect class="pcc" x="141" width="111" y="-10" height="20"/></g>
<g transform="translate(1059 0) scale(0.01968 1)"><line class="bb" x2="4690"/><rect class="u" x="0" width="340" y="-10" height="20"/><rect class="u" x="440" width="100" y="-10" height="20"/><rect class="c" x="540" width="260" y="-10" height="20"/><rect class="c" x="930" width="120" y="-10" height="20"/><rect class="c" x="2020" width="60" y="-10" height="20"/><rect class="c" x="3260" width="110" y="-10" height="20"/><rect class="c" x="3750" width="160" y="-10" height="20"/><rect class="c" x="4160" width="200" y="-10" height="20"/><rect class="u" x="4360" width="330" y="-10" height="20"/></g></g>
<!-- row 29 -->
<g transform="translate(0 892)"><text class="lbl" x="117" y="5.5">Zm00001eb024570</text>
<g transform="translate(285 0) scale(0.5033 1)"><line class="bb" x2="413"/><rect class="m4" x="113" width="21" y="-10" height="20"/><rect class="m7" x="167" width="20" y="-10" height="20"/><rect class="m1" x="185" width="40" y="-10" height="20"/><rect class="m5" x="225" width="13" y="-10" height="20"/><rect class="m3" x="238" width="21" y="-10" height="20"/><rect class="m2" x="259" width="40" y="-10" height="20"/><rect class="m8" x="368" width="18" y="-10" height="20"/></g>
<g transform="translate(670 0) scale(0.5033 1)"><rect class="gr" width="417" y="-10" height="20"/><rect class="pcc" x="197" width="113" y="-10" height="20"/></g>
<g transform="translate(1059 0) scale(0.01968 1)"><line class="bb" x2="4140"/><rect class="u" x="0" width="180" y="-10" height="20"/><rect class="u" x="510" width="150" y="-10" height="20"/><rect class="c" x="660" width="590" y="-10" height="20"/><rect class="c" x="1310" width="80" y="-10" height="20"/><rect class="c" x="2380" width="150" y="-10" height="20"/><rect class="c" x="3040" width="150" y="-10" height="20"/><rect class="c" x="3320" width="330" y="-10" height="20"/><rect class="u" x="3650" width="490" y="-10" height="20"/></g></g>
<!-- row 30 -->
<g transform="translate(0 922.5)"><text class="lbl" x="117" y="5.5">Zm00001eb390500</text>
<g transform="translate(285 0) scale(0.5033 1)"><line class="bb" x2="411"/><rect class="m8" x="24" width="18" y="-10" height="20"/><rect class="m4" x="119" width="21" y="-10" height="20"/><rect class="m7" x="175" width="20" y="-10" height="20"/><rect class="m1" x="195" width="40" y="-10" height="20"/><rect class="m5" x="235" width="13" y="-10" height="20"/><rect class="m3" x="248" width="21" y="-10" height="20"/><rect class="m2" x="269" width="40" y="-10" height="20"/><rect class="m4" x="330" width="21" y="-10" height="20"/></g>
<g transform="translate(670 0) scale(0.5033 1)"><rect class="gr" width="415" y="-10" height="20"/><rect class="pcc" x="209" width="109" y="-10" height="20"/></g>
<g transform="translate(1059 0) scale(0.01968 1)"><line class="bb" x2="4590"/><rect class="u" x="0" width="410" y="-10" height="20"/><rect class="u" x="820" width="230" y="-10" height="20"/><rect class="c" x="1050" width="590" y="-10" height="20"/><rect class="c" x="1710" width="100" y="-10" height="20"/><rect class="c" x="2730" width="110" y="-10" height="20"/><rect class="c" x="3470" width="130" y="-10" height="20"/><rect class="c" x="3780" width="330" y="-10" height="20"/><rect class="u" x="4110" width="480" y="-10" height="20"/></g></g>
<!-- row 31 -->
<g transform="translate(0 953)"><text class="lbl" x="117" y="5.5">Zm00001eb428370</text>
<g transform="translate(285 0) scale(0.5033 1)"><line class="bb" x2="403"/><rect class="m8" x="0" width="18" y="-10" height="20"/><rect class="m4" x="119" width="21" y="-10" height="20"/><rect class="m7" x="167" width="20" y="-10" height="20"/><rect class="m1" x="185" width="40" y="-10" height="20"/><rect class="m5" x="225" width="13" y="-10" height="20"/><rect class="m3" x="238" width="21" y="-10" height="20"/><rect class="m2" x="259" width="40" y="-10" height="20"/></g>
<g transform="translate(670 0) scale(0.5033 1)"><rect class="gr" width="407" y="-10" height="20"/><rect class="pcc" x="197" width="117" y="-10" height="20"/></g>
<g transform="translate(1059 0) scale(0.01968 1)"><line class="bb" x2="4600"/><rect class="u" x="0" width="410" y="-10" height="20"/><rect class="c" x="410" width="570" y="-10" height="20"/><rect class="c" x="1670" width="100" y="-10" height="20"/><rect class="c" x="2450" width="100" y="-10" height="20"/><rect class="c" x="3620" width="160" y="-10" height="20"/><rect class="c" x="3920" width="340" y="-10" height="20"/><rect class="u" x="4260" width="340" y="-10" height="20"/></g></g>
<!-- row 32 -->
<g transform="translate(0 983.5)"><text class="lbl" x="117" y="5.5">Zm00001eb434070</text>
<g transform="translate(285 0) scale(0.5033 1)"><line class="bb" x2="409"/><rect class="m8" x="4" width="18" y="-10" height="20"/><rect class="m4" x="105" width="21" y="-10" height="20"/><rect class="m7" x="151" width="20" y="-10" height="20"/><rect class="m1" x="173" width="40" y="-10" height="20"/><rect class="m5" x="213" width="13" y="-10" height="20"/><rect class="m3" x="246" width="21" y="-10" height="20"/><rect class="m2" x="276" width="40" y="-10" height="20"/></g>
<g transform="translate(670 0) scale(0.5033 1)"><rect class="gr" width="413" y="-10" height="20"/><rect class="duf" x="187" width="127" y="-10" height="20"/></g>
<g transform="translate(1059 0) scale(0.01968 1)"><line class="bb" x2="3040"/><rect class="u" x="0" width="520" y="-10" height="20"/><rect class="c" x="520" width="530" y="-10" height="20"/><rect class="c" x="1560" width="120" y="-10" height="20"/><rect class="c" x="1790" width="130" y="-10" height="20"/><rect class="c" x="1940" width="590" y="-10" height="20"/><rect class="u" x="2530" width="510" y="-10" height="20"/></g></g>
<!-- row 33 -->
<g transform="translate(0 1014)"><text class="lbl" x="117" y="5.5">Zm00001eb065740</text>
<g transform="translate(285 0) scale(0.5033 1)"><line class="bb" x2="376"/><rect class="m8" x="4" width="18" y="-10" height="20"/><rect class="m4" x="91" width="21" y="-10" height="20"/><rect class="m7" x="149" width="20" y="-10" height="20"/><rect class="m1" x="171" width="40" y="-10" height="20"/><rect class="m5" x="211" width="13" y="-10" height="20"/><rect class="m2" x="262" width="40" y="-10" height="20"/></g>
<g transform="translate(670 0) scale(0.5033 1)"><rect class="gr" width="380" y="-10" height="20"/><rect class="duf" x="189" width="119" y="-10" height="20"/></g>
<g transform="translate(1059 0) scale(0.01968 1)"><line class="bb" x2="2750"/><rect class="u" x="0" width="340" y="-10" height="20"/><rect class="c" x="340" width="540" y="-10" height="20"/><rect class="c" x="1360" width="70" y="-10" height="20"/><rect class="c" x="1460" width="100" y="-10" height="20"/><rect class="c" x="1730" width="190" y="-10" height="20"/><rect class="c" x="2090" width="240" y="-10" height="20"/><rect class="u" x="2330" width="420" y="-10" height="20"/></g></g>
<!-- row 34 -->
<g transform="translate(0 1044.5)"><text class="lbl" x="117" y="5.5">Zm00001eb190840</text>
<g transform="translate(285 0) scale(0.5033 1)"><line class="bb" x2="397"/><rect class="m4" x="117" width="21" y="-10" height="20"/><rect class="m7" x="179" width="20" y="-10" height="20"/><rect class="m1" x="201" width="40" y="-10" height="20"/><rect class="m5" x="241" width="13" y="-10" height="20"/><rect class="m3" x="254" width="21" y="-10" height="20"/><rect class="m2" x="275" width="40" y="-10" height="20"/><rect class="m6" x="332" width="15" y="-10" height="20"/></g>
<g transform="translate(670 0) scale(0.5033 1)"><rect class="gr" width="399" y="-10" height="20"/><rect class="duf" x="215" width="111" y="-10" height="20"/></g>
<g transform="translate(1059 0) scale(0.01968 1)"><line class="bb" x2="4690"/><rect class="u" x="0" width="620" y="-10" height="20"/><rect class="c" x="620" width="610" y="-10" height="20"/><rect class="c" x="1790" width="110" y="-10" height="20"/><rect class="c" x="3140" width="180" y="-10" height="20"/><rect class="c" x="3840" width="150" y="-10" height="20"/><rect class="c" x="4160" width="240" y="-10" height="20"/><rect class="u" x="4400" width="290" y="-10" height="20"/></g></g>
<!-- row 35 -->
<g transform="translate(0 1075)"><text class="lbl" x="117" y="5.5">Zm00001eb259240</text>
<g transform="translate(285 0) scale(0.5033 1)"><line class="bb" x2="322"/><rect class="m4" x="115" width="21" y="-10" height="20"/><rect class="m7" x="175" width="20" y="-10" height="20"/><rect class="m1" x="195" width="40" y="-10" height="20"/><rect class="m5" x="235" width="13" y="-10" height="20"/><rect class="m3" x="248" width="21" y="-10" height="20"/><rect class="m2" x="269" width="40" y="-10" height="20"/></g>
<g transform="translate(670 0) scale(0.5033 1)"><rect class="gr" width="326" y="-10" height="20"/><rect class="pcc" x="215" width="111" y="-10" height="20"/></g>
<g transform="translate(1059 0) scale(0.01968 1)"><line class="bb" x2="4240"/><rect class="u" x="0" width="540" y="-10" height="20"/><rect class="c" x="540" width="590" y="-10" height="20"/><rect class="c" x="2000" width="120" y="-10" height="20"/><rect class="c" x="3140" width="130" y="-10" height="20"/><rect class="c" x="3510" width="190" y="-10" height="20"/><rect class="u" x="3700" width="540" y="-10" height="20"/></g></g>
</g>

<g>
<line class="ax" x1="285" y1="1105" x2="587" y2="1105"/>
<path class="tk" d="M285 1103V1116M335.3 1103V1116M385.7 1103V1116M436 1103V1116M486.3 1103V1116M536.6 1103V1116M587 1103V1116"/>
<text class="tl" x="285" y="1133">0</text><text class="tl" x="335.3" y="1133">100</text><text class="tl" x="385.7" y="1133">200</text><text class="tl" x="436" y="1133">300</text><text class="tl" x="486.3" y="1133">400</text><text class="tl" x="536.6" y="1133">500</text><text class="tl" x="587" y="1133">600</text>
<text class="pr" x="266" y="1112">5'</text><text class="pr" x="590" y="1110">3'</text>
</g>
<g>
<line class="ax" x1="670" y1="1105" x2="972" y2="1105"/>
<path class="tk" d="M670 1103V1116M720.3 1103V1116M770.7 1103V1116M821 1103V1116M871.3 1103V1116M921.6 1103V1116M972 1103V1116"/>
<text class="tl" x="670" y="1133">0</text><text class="tl" x="720.3" y="1133">100</text><text class="tl" x="770.7" y="1133">200</text><text class="tl" x="821" y="1133">300</text><text class="tl" x="871.3" y="1133">400</text><text class="tl" x="921.6" y="1133">500</text><text class="tl" x="972" y="1133">600</text>
<text class="pr" x="655" y="1112">5'</text><text class="pr" x="976" y="1110">3'</text>
</g>
<g>
<line class="ax" x1="1059" y1="1105" x2="1492" y2="1105"/>
<path class="tk" d="M1059 1103V1116M1098.4 1103V1116M1137.7 1103V1116M1177.1 1103V1116M1216.4 1103V1116M1255.8 1103V1116M1295.2 1103V1116M1334.5 1103V1116M1373.9 1103V1116M1413.2 1103V1116M1452.6 1103V1116M1492 1103V1116"/>
<text class="tl" x="1060" y="1133">0</text><text class="tl" x="1098.4" y="1133">2000</text><text class="tl" x="1177.1" y="1133">6000</text><text class="tl" x="1255.8" y="1133">10000</text><text class="tl" x="1334.5" y="1133">14000</text><text class="tl" x="1413.2" y="1133">18000</text><text class="tl" x="1492" y="1133">22000</text>
<text class="pr" x="1044" y="1112">5'</text><text class="pr" x="1496" y="1110">3'</text>
</g>

<g>
<g><rect class="m4" x="1357" y="31" width="41" height="17"/><text class="lg" x="1404" y="44">Motif 4</text></g>
<g><rect class="m1" x="1357" y="52" width="41" height="17"/><text class="lg" x="1404" y="65">Motif 1</text></g>
<g><rect class="m2" x="1357" y="74" width="41" height="17"/><text class="lg" x="1404" y="87">Motif 2</text></g>
<g><rect class="m8" x="1357" y="96" width="41" height="17"/><text class="lg" x="1404" y="109">Motif 8</text></g>
<g><rect class="m3" x="1357" y="118" width="41" height="17"/><text class="lg" x="1404" y="131">Motif 3</text></g>
<g><rect class="m6" x="1357" y="140" width="41" height="17"/><text class="lg" x="1404" y="153">Motif 6</text></g>
<g><rect class="m5" x="1357" y="163" width="41" height="17"/><text class="lg" x="1404" y="176">Motif 5</text></g>
<g><rect class="m10" x="1357" y="184" width="41" height="17"/><text class="lg" x="1404" y="197">Motif 10</text></g>
<g><rect class="m9" x="1357" y="206" width="41" height="17"/><text class="lg" x="1404" y="219">Motif 9</text></g>
<g><rect class="m7" x="1357" y="228" width="41" height="17"/><text class="lg" x="1404" y="241">Motif 7</text></g>
<g><rect class="pcc" x="1357" y="285" width="41" height="17"/><text class="lg" x="1404" y="298">PCC</text></g>
<g><rect class="duf" x="1357" y="308" width="41" height="17"/><text class="lg" x="1404" y="321">DUF296</text></g>
<g><rect class="prk" x="1357" y="333" width="41" height="17"/><text class="lg" x="1404" y="346">PRK14959 superfamily</text></g>
<g><rect class="u" x="1357" y="387" width="41" height="17"/><text class="lg" x="1404" y="400">UTR</text></g>
<g><rect class="c" x="1357" y="409" width="41" height="17"/><text class="lg" x="1404" y="422">CDS</text></g>
</g>
</svg>
</body></html>
